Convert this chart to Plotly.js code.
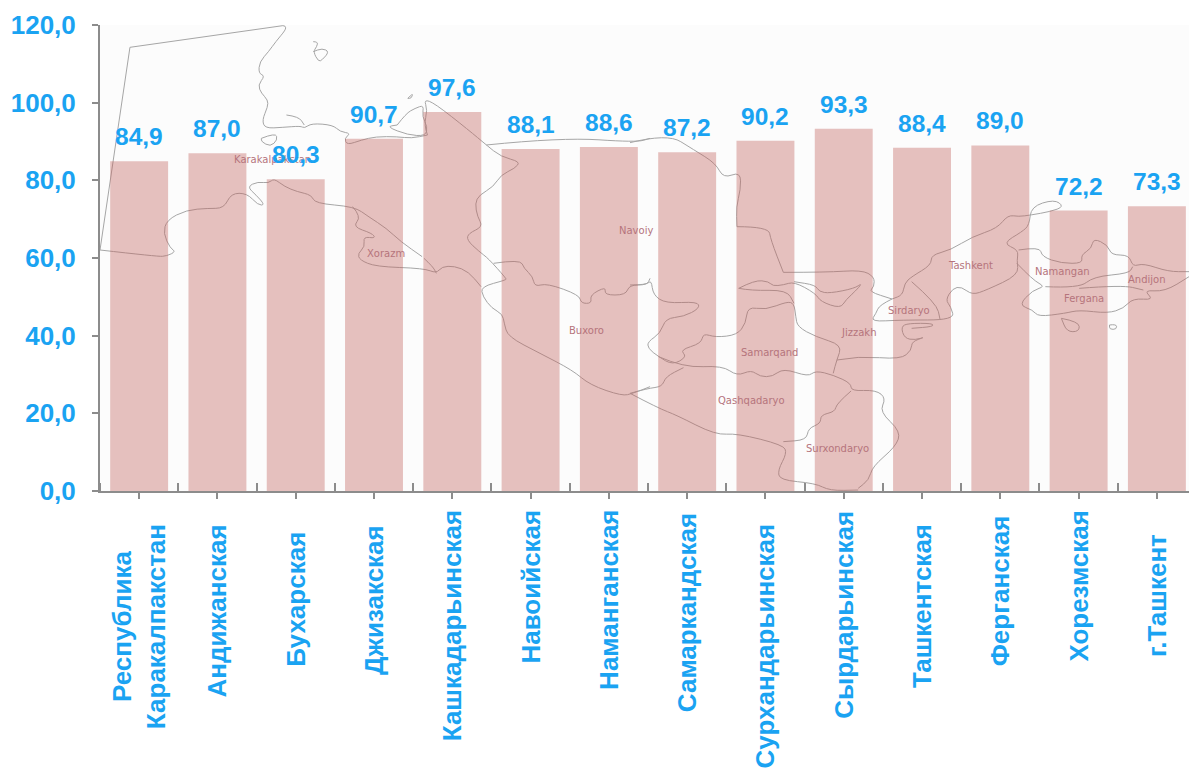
<!DOCTYPE html>
<html><head><meta charset="utf-8">
<script src="https://cdn.plot.ly/plotly-3.0.1.min.js"></script>
<style>html,body{margin:0;padding:0;background:#fff;overflow:hidden}</style>
</head><body><div id="chart" style="width:1189px;height:769px"></div>
<script>
const categories = ["Республика<br>Каракалпакстан","Андижанская","Бухарская","Джизакская","Кашкадарьинская","Навоийская","Наманганская","Самаркандская","Сурхандарьинская","Сырдарьинская","Ташкентская","Ферганская","Хорезмская","г.Ташкент"];
const values = [84.9,87.0,80.3,90.7,97.6,88.1,88.6,87.2,90.2,93.3,88.4,89.0,72.2,73.3];
const labelCentres = [627,611,599,600,626,587,600,613,646,615,606,591,586,595];

const regionNames = ["Karakalpakstan","Xorazm","Buxoro","Navoiy","Samarqand","Qashqadaryo","Surxondaryo","Jizzakh","Sirdaryo","Tashkent","Namangan","Fergana","Andijon"];
const regionSpots = [[272,159],[386,253],[586,330],[636,230],[769,352],[751,400],[837,448],[858,332],[909,310],[970,265],[1062,271],[1084,298],[1147,279]];

// background map outline, traced in crop coordinates
const mapWest = [
 [[28,720],[112,112]],
 [[112,112],[540,47]],
 [[540,47],[548,47],[548,60],[520,95],[500,125],[475,155],[472,190],[490,198],[470,225],[480,250],[498,270],[498,290],[482,330],[490,355],[540,352],[590,348],[600,355],[620,340],[680,345],[700,365],[730,370],[712,385],[720,405],[760,390],[800,380],[860,380],[900,385],[945,375]],
 [[945,375],[935,345],[945,300],[935,268],[965,280],[1060,360],[1110,405],[1150,440],[1205,455],[1190,475],[1150,495],[1130,530],[1090,555],[1078,580],[1085,620],[1100,650],[1060,670],[1055,690],[1090,725],[1115,745],[1165,805],[1165,810],[1095,830],[1100,860],[1125,895],[1155,912],[1160,940],[1170,980],[1260,1030],[1350,1080],[1400,1125],[1490,1158],[1520,1150],[1568,1130]],
 [[1110,405],[1320,382],[1530,397],[1568,385]],
 [[28,720],[190,740],[215,738],[240,725],[225,715],[205,670],[215,630],[270,600],[330,595],[375,595],[395,550],[440,550],[470,585],[490,585],[465,555],[440,530],[470,515],[500,520],[515,505],[545,530],[580,545],[620,555],[630,580],[740,590],[780,620],[830,655],[870,695],[930,740]],
 [[735,590],[760,620],[735,650],[790,670],[800,685],[765,680],[770,710],[750,730],[755,750],[800,770],[935,775],[970,790],[985,770],[1020,768],[1060,785],[1095,830]],
 [[935,745],[960,770],[970,790]],
 [[1130,760],[1205,748],[1215,775],[1240,800],[1245,830],[1280,820],[1370,855],[1375,880],[1405,880],[1400,855],[1445,830],[1440,855],[1500,855],[1510,825],[1560,825],[1568,805]],
 [[550,315],[585,320],[600,345]],
 [[625,95],[638,95],[635,110],[625,125],[640,155],[650,150],[670,125],[650,115],[625,125]],
 [[480,385],[520,368],[525,390],[505,410],[480,395],[480,385]],
 [[860,345],[885,310],[910,295],[935,285],[930,320],[945,350],[940,378],[890,375],[830,350],[860,345]],
 [[890,265],[905,248],[900,265],[890,265]]
];
const mapEast = [
 [[0,128],[105,100],[180,150],[240,190],[262,235],[310,215],[310,270],[298,320],[300,380]],
 [[300,380],[388,380],[395,420],[430,517]],
 [[430,517],[550,517],[650,510],[685,530],[685,560],[670,575],[735,597]],
 [[0,555],[45,555],[60,540],[65,585],[100,610],[190,605],[195,625],[150,650],[100,655],[85,700],[50,725],[50,745],[80,770],[120,795],[160,770],[140,750],[200,730],[205,700],[240,712],[300,705],[325,670],[330,620],[380,630],[440,605],[460,610],[465,650],[470,680],[520,710],[595,735],[580,780],[570,820]],
 [[80,770],[150,803],[260,797],[300,828],[340,810],[365,830],[400,830],[430,805],[500,830],[520,812],[570,825],[620,850],[620,873],[690,870],[718,895],[700,935],[760,995],[745,1040],[680,1100],[670,1140],[640,1165]],
 [[0,880],[50,865],[90,860],[100,830],[150,803]],
 [[0,880],[80,925],[130,945],[240,1005],[300,1000],[430,1035],[440,1060],[415,1110],[420,1140],[520,1150],[560,1172],[640,1170]],
 [[620,873],[580,910],[575,935],[535,945],[535,970],[500,985],[495,1020],[430,1025]],
 [[305,565],[350,540],[390,545],[400,558],[430,555],[460,545],[520,580],[535,605],[590,625],[605,600],[640,565],[650,550],[630,565],[560,580],[530,575],[520,555],[460,545]],
 [[305,565],[340,572],[440,570],[460,610]],
 [[580,780],[640,768],[760,778],[790,750],[790,725],[830,710],[800,720],[770,715],[760,680],[780,670],[850,670],[850,680],[790,685]],
 [[735,597],[700,615],[690,640],[675,665],[760,660],[910,660],[900,620],[885,600],[905,565],[930,560],[960,585],[1000,570],[1090,525],[1085,480],[1090,450],[1045,430],[1100,395],[1120,375],[1125,320],[1190,298],[1218,320],[1178,335],[1125,345],[1090,350],[1060,345],[1030,385],[960,410],[900,450],[845,465],[845,495],[790,530],[770,550],[765,585],[735,597]],
 [[790,545],[860,610],[870,660]],
 [[1090,450],[1150,440],[1155,470],[1210,490],[1270,490],[1265,465],[1295,445],[1300,415],[1340,435],[1350,465],[1400,465],[1410,500],[1440,490],[1510,515],[1568,515]],
 [[1085,490],[1130,540],[1165,560],[1130,570],[1090,615],[1130,630],[1145,650],[1220,640],[1260,630],[1340,640],[1385,625],[1410,595],[1470,600],[1440,570],[1500,575],[1568,530]],
 [[1165,560],[1260,565],[1300,530],[1400,520],[1410,500]],
 [[1260,565],[1380,555],[1440,570]],
 [[1210,655],[1260,665],[1260,695],[1225,695],[1210,655]],
 [[1345,675],[1365,672],[1365,688],[1345,688],[1345,675]]
];

const BLUE = "#1AA3F2";
const FONT = "Liberation Sans, Arial, sans-serif";
const L = 100, R = 1189, T = 25, B = 491;
const px = x => (x - L) / (R - L), py = y => (B - y) / (B - T);

function mapPath(lines, ox, oy, sx, sy) {
  return lines.map(line => {
    const pts = line.map(p => [px(ox + p[0] / sx), py(oy + p[1] / sy)]);
    const f = p => p[0].toFixed(4) + "," + p[1].toFixed(4);
    let d = "M" + f(pts[0]);
    for (let i = 1; i < pts.length - 1; i++) {
      const m = [(pts[i][0] + pts[i + 1][0]) / 2, (pts[i][1] + pts[i + 1][1]) / 2];
      d += " Q" + f(pts[i]) + " " + f(m);
    }
    d += " L" + f(pts[pts.length - 1]);
    return {type: "path", xref: "paper", yref: "paper", layer: "below",
            line: {color: "#A6A6A6", width: 1}, path: d};
  });
}

const xs = categories.map((_, i) => i);

const annotations = [];
regionNames.forEach((n, i) => annotations.push({
  text: n, xref: "paper", yref: "paper", x: px(regionSpots[i][0]), y: py(regionSpots[i][1]),
  xanchor: "center", yanchor: "middle", showarrow: false,
  font: {family: "DejaVu Sans", size: 10, color: "#B5747C"}
}));
categories.forEach((c, i) => annotations.push({
  text: c, xref: "x", yref: "paper", x: xs[i], y: py(labelCentres[i]),
  xanchor: "center", yanchor: "middle", textangle: -90, showarrow: false,
  font: {family: FONT, size: 26, color: BLUE, weight: "bold"}
}));
values.forEach((v, i) => annotations.push({
  text: v.toFixed(1).replace(".", ","), xref: "x", yref: "y", x: xs[i], y: v,
  xanchor: "center", yanchor: "bottom", yshift: 9, showarrow: false,
  font: {family: FONT, size: 24.5, color: BLUE, weight: "bold"}
}));

Plotly.newPlot("chart", [{
  type: "bar", x: xs, y: values, width: 0.74,
  marker: {color: "rgba(192,97,92,0.39)", line: {width: 0}},
  hoverinfo: "y"
}], {
  width: 1189, height: 769,
  margin: {l: L, r: 0, t: T, b: 769 - B, pad: 0},
  paper_bgcolor: "#FFFFFF", plot_bgcolor: "#FCFCFC",
  separators: ", ", showlegend: false,
  shapes: mapPath(mapWest, 90, 10, 2.8, 3).concat(mapPath(mapEast, 630, 100, 2.805, 3)),
  annotations,
  xaxis: {
    type: "linear", range: [-0.5, 13.41], tickmode: "array", tickvals: xs, showticklabels: false,
    ticks: "outside", ticklen: 6, tickwidth: 2, tickcolor: "#8C8C8C",
    minor: {tick0: -0.5, dtick: 1, ticks: "inside", ticklen: 8, tickwidth: 2, tickcolor: "#8C8C8C", showgrid: false},
    showgrid: false, zeroline: false, showline: true, linecolor: "#8C8C8C", linewidth: 2
  },
  yaxis: {
    range: [0, 120], tick0: 0, dtick: 20, tickformat: ".1f",
    ticks: "outside", ticklen: 6, tickwidth: 2, tickcolor: "#8C8C8C", ticklabelstandoff: 11,
    tickfont: {family: FONT, size: 26, color: BLUE, weight: "bold"},
    showgrid: false, zeroline: false, showline: true, linecolor: "#8C8C8C", linewidth: 2
  }
}, {displayModeBar: false, responsive: false});
</script></body></html>
